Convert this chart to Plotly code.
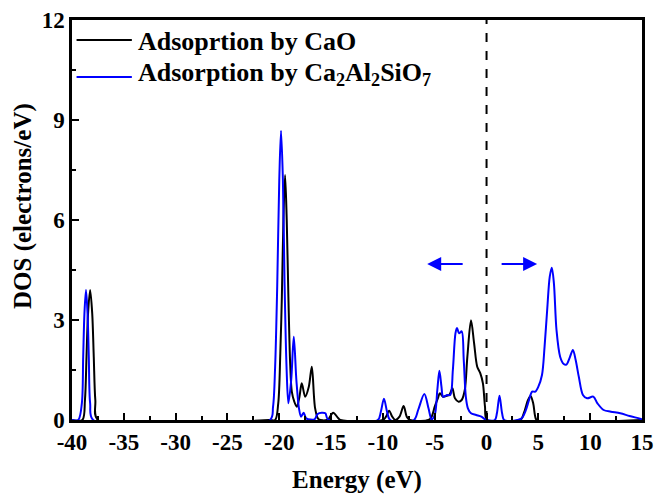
import plotly.graph_objects as go

# Density of states for the two adsorption systems (energy in eV, DOS in electrons/eV)
energy_cao = [
    -40.0, -39.0, -38.75, -38.6, -38.45, -38.25, -38.05, -37.9, -37.75, -37.5,
    -21.0, -20.4, -20.1, -19.9, -19.75, -19.6, -19.44, -19.28, -19.12, -18.95,
    -18.79, -18.55, -18.31, -18.05, -17.83, -17.5, -17.15, -16.86, -16.54, -16.2,
    -15.4, -15.2, -14.8, -14.3, -14.1,
    -10.0, -9.7, -9.4, -9.1, -8.8, -8.4, -8.0, -7.7, -7.4,
    -5.6, -5.3, -5.0, -4.7, -4.5, -4.2, -3.9, -3.6, -3.3, -3.05, -2.7, -2.4,
    -2.1, -1.85, -1.5, -1.2, -0.9, -0.6, -0.35, -0.15, 0.05,
    3.2, 3.4, 3.7, 4.0, 4.25, 4.5, 4.7, 4.85, 15.0,
]
dos_cao = [
    0.0, 0.0, 0.6, 1.9, 3.2, 3.9, 3.2, 1.9, 0.6, 0.0,
    0.0, 0.0, 0.5, 2.0, 3.7, 6.0, 7.35, 6.0, 3.7, 1.7,
    0.85, 0.55, 0.4, 0.7, 1.1, 0.7, 1.0, 1.6, 0.35, 0.02,
    0.0, 0.05, 0.22, 0.05, 0.0,
    0.0, 0.1, 0.28, 0.1, 0.0, 0.1, 0.42, 0.1, 0.0,
    0.0, 0.1, 0.4, 0.65, 0.8, 0.7, 0.72, 0.75, 0.95, 0.65, 0.55, 0.6,
    0.9, 1.9, 2.99, 2.3, 1.6, 1.4, 1.1, 0.4, 0.0,
    0.0, 0.05, 0.3, 0.6, 0.72, 0.5, 0.1, 0.0, 0.0,
]

energy_c2as = [
    -40.0, -39.4, -39.05, -38.92, -38.8, -38.65, -38.5, -38.38, -38.25, -37.95,
    -20.9, -20.6, -20.4, -20.2, -20.0, -19.83, -19.65, -19.5, -19.3, -19.12,
    -18.85, -18.6, -18.35, -18.1, -17.9, -17.65, -17.4, -16.6, -16.3, -15.9,
    -15.55, -15.3,
    -10.5, -10.2, -9.9, -9.6, -9.3,
    -7.0, -6.6, -6.0, -5.6, -5.3, -5.0, -4.75, -4.55, -4.35, -4.2, -4.0, -3.8,
    -3.5, -3.25, -3.0, -2.85, -2.65, -2.4, -2.2, -2.0, -1.8, -1.5, -1.0, -0.5,
    -0.2, 0.0, 0.8, 1.0, 1.25, 1.5, 1.7,
    3.0, 3.4, 3.8, 4.1, 4.4, 4.7, 5.0, 5.35, 5.6, 5.85, 6.1, 6.3, 6.5, 6.75,
    7.1, 7.45, 7.7, 8.0, 8.33, 8.6, 8.9, 9.3, 9.7, 10.3, 10.7, 11.3, 12.0,
    12.9, 13.8, 14.8, 15.0,
]
dos_c2as = [
    0.0, 0.0, 0.5, 1.9, 3.2, 3.9, 3.2, 1.9, 0.5, 0.0,
    0.0, 0.4, 1.6, 4.0, 7.2, 8.68, 7.2, 4.3, 1.6, 0.5,
    1.2, 2.5, 1.2, 0.35, 0.1, 0.22, 0.05, 0.02, 0.18, 0.22,
    0.2, 0.02,
    0.0, 0.25, 0.64, 0.25, 0.0,
    0.0, 0.3, 0.78, 0.35, 0.02, 0.15, 0.9, 1.48, 1.0, 0.7, 0.72, 0.75,
    0.75, 1.5, 2.6, 2.76, 2.6, 2.66, 1.8, 0.7, 0.35, 0.2, 0.15, 0.1,
    0.03, 0.0, 0.0, 0.2, 0.73, 0.2, 0.0,
    0.0, 0.05, 0.3, 0.6, 0.85, 0.85, 1.0, 1.35, 2.2, 3.3, 4.3, 4.57, 4.1, 2.7,
    1.9, 1.68, 1.66, 1.85, 2.1, 1.8, 1.3, 0.75, 0.65, 0.7, 0.5, 0.3, 0.25,
    0.2, 0.12, 0.04, 0.02,
]

series_names = [
    "Adsoprtion by CaO",
    "Adsorption by Ca<sub>2</sub>Al<sub>2</sub>SiO<sub>7</sub>",
]
series_colors = ["black", "#0000FF"]
x_ticks = [-40, -35, -30, -25, -20, -15, -10, -5, 0, 5, 10, 15]
y_ticks = [0, 3, 6, 9, 12]

FONT = "Liberation Serif"

fig = go.Figure()
for xs, ys, name, color in [
    (energy_cao, dos_cao, series_names[0], series_colors[0]),
    (energy_c2as, dos_c2as, series_names[1], series_colors[1]),
]:
    fig.add_trace(go.Scatter(
        x=xs, y=ys, mode="lines", name=name, showlegend=False,
        line=dict(color=color, width=2, shape="spline", smoothing=0.9),
    ))

# Fermi level
fig.add_shape(type="line", x0=0, x1=0, y0=0, y1=12, xref="x", yref="y",
              line=dict(color="black", width=2, dash="dash"), layer="below")

# Arrows marking valence / conduction sides
for x_tail, x_head in [(-2.16, -5.73), (1.31, 4.88)]:
    fig.add_annotation(x=x_head, y=4.68, ax=x_tail, ay=4.68,
                       xref="x", yref="y", axref="x", ayref="y",
                       text="", showarrow=True, arrowhead=2, arrowsize=1.4,
                       arrowwidth=2, arrowcolor="#0000FF")

# Legend key (line sample + label) in the upper-left corner
legend_line_y = [0.95, 0.8575]
legend_text_y = [0.947, 0.866]
for row, (name, color) in enumerate(zip(series_names, series_colors)):
    fig.add_shape(type="line", xref="paper", yref="paper",
                  x0=0.008, x1=0.105, y0=legend_line_y[row], y1=legend_line_y[row],
                  line=dict(color=color, width=2))
    fig.add_annotation(xref="paper", yref="paper", x=0.113, y=legend_text_y[row],
                       xanchor="left", yanchor="middle", showarrow=False,
                       text=f"<b>{name}</b>",
                       font=dict(family=FONT, size=26, color="black"))

# Vertical axis title
fig.add_annotation(xref="paper", yref="paper", x=-0.086, y=0.535,
                   xanchor="center", yanchor="middle", showarrow=False,
                   textangle=-90, text="<b>DOS (electrons/eV)</b>",
                   font=dict(family=FONT, size=25, color="black"))

axis_common = dict(
    showline=True, linecolor="black", linewidth=2.5, mirror=True,
    ticks="inside", ticklen=7, tickwidth=2, tickcolor="black",
    showgrid=False, zeroline=False, automargin=False,
    tickfont=dict(family=FONT, size=23, color="black"),
)

fig.update_xaxes(
    range=[-40, 15], tickvals=x_ticks,
    ticktext=[f"<b>{v}</b>" for v in x_ticks],
    minor=dict(ticks="inside", ticklen=4, tickwidth=2, dtick=2.5, tickcolor="black"),
    title=dict(text="<b>Energy (eV)</b>", standoff=23,
               font=dict(family=FONT, size=25, color="black")),
    **axis_common,
)
fig.update_yaxes(
    range=[0, 12], tickvals=y_ticks,
    ticktext=[f"<b>{v}</b>" for v in y_ticks],
    minor=dict(ticks="inside", ticklen=4, tickwidth=2, dtick=1.5, tickcolor="black"),
    **axis_common,
)

fig.update_layout(
    width=656, height=494,
    margin=dict(l=72, r=14, t=20, b=74),
    plot_bgcolor="white", paper_bgcolor="white",
    showlegend=False,
)

fig.write_html("out.html")
